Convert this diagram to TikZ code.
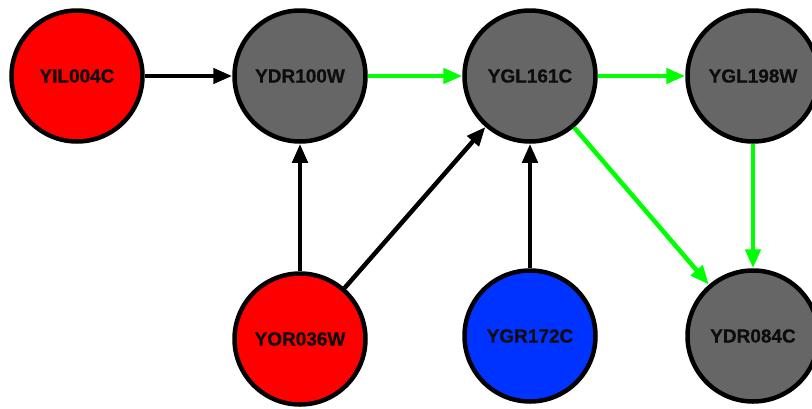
\documentclass[tikz,border=0pt]{standalone}
\usepackage{fontspec}
\setmainfont{Liberation Sans}[BoldFeatures={FakeBold=0.6}]
\usetikzlibrary{arrows.meta}
\definecolor{nred}{HTML}{FF0000}
\definecolor{ngray}{HTML}{666666}
\definecolor{nblue}{HTML}{0033FF}
\definecolor{egreen}{HTML}{00FF00}
\tikzset{
  gene/.style={circle, draw=black, line width=4.5pt, minimum size=131pt, inner sep=0pt,
    font=\fontsize{19}{22}\selectfont\bfseries, text=black!95},
  redgene/.style={gene, fill=nred},
  graygene/.style={gene, fill=ngray},
  bluegene/.style={gene, fill=nblue},
  edgeblack/.style={draw=black, line width=4.5pt, -{Triangle[length=19pt,width=15pt]}},
  edgegreen/.style={draw=egreen, line width=4.5pt, -{Triangle[length=19pt,width=15pt]}}
}
\begin{document}
\begin{tikzpicture}[x=1pt,y=-1pt]
\useasboundingbox (0,0) rectangle (812,408);
\node[redgene]  (yil) at (77,76)  {YIL004C};
\node[graygene] (ydr100) at (300,76) {YDR100W};
\node[graygene] (ygl161) at (530,76) {YGL161C};
\node[graygene] (ygl198) at (753,76) {YGL198W};
\node[redgene]  (yor) at (300,339) {YOR036W};
\node[bluegene] (ygr) at (530,336) {YGR172C};
\node[graygene] (ydr084) at (753,336) {YDR084C};
\draw[edgeblack] (yil) -- (ydr100);
\draw[edgegreen] (ydr100) -- (ygl161);
\draw[edgegreen] (ygl161) -- (ygl198);
\draw[edgeblack] (yor) -- (ydr100);
\draw[edgeblack] (yor) -- (ygl161);
\draw[edgeblack] (ygr) -- (ygl161);
\draw[edgegreen] (ygl161) -- (ydr084);
\draw[edgegreen] (ygl198) -- (ydr084);
\end{tikzpicture}
\end{document}
